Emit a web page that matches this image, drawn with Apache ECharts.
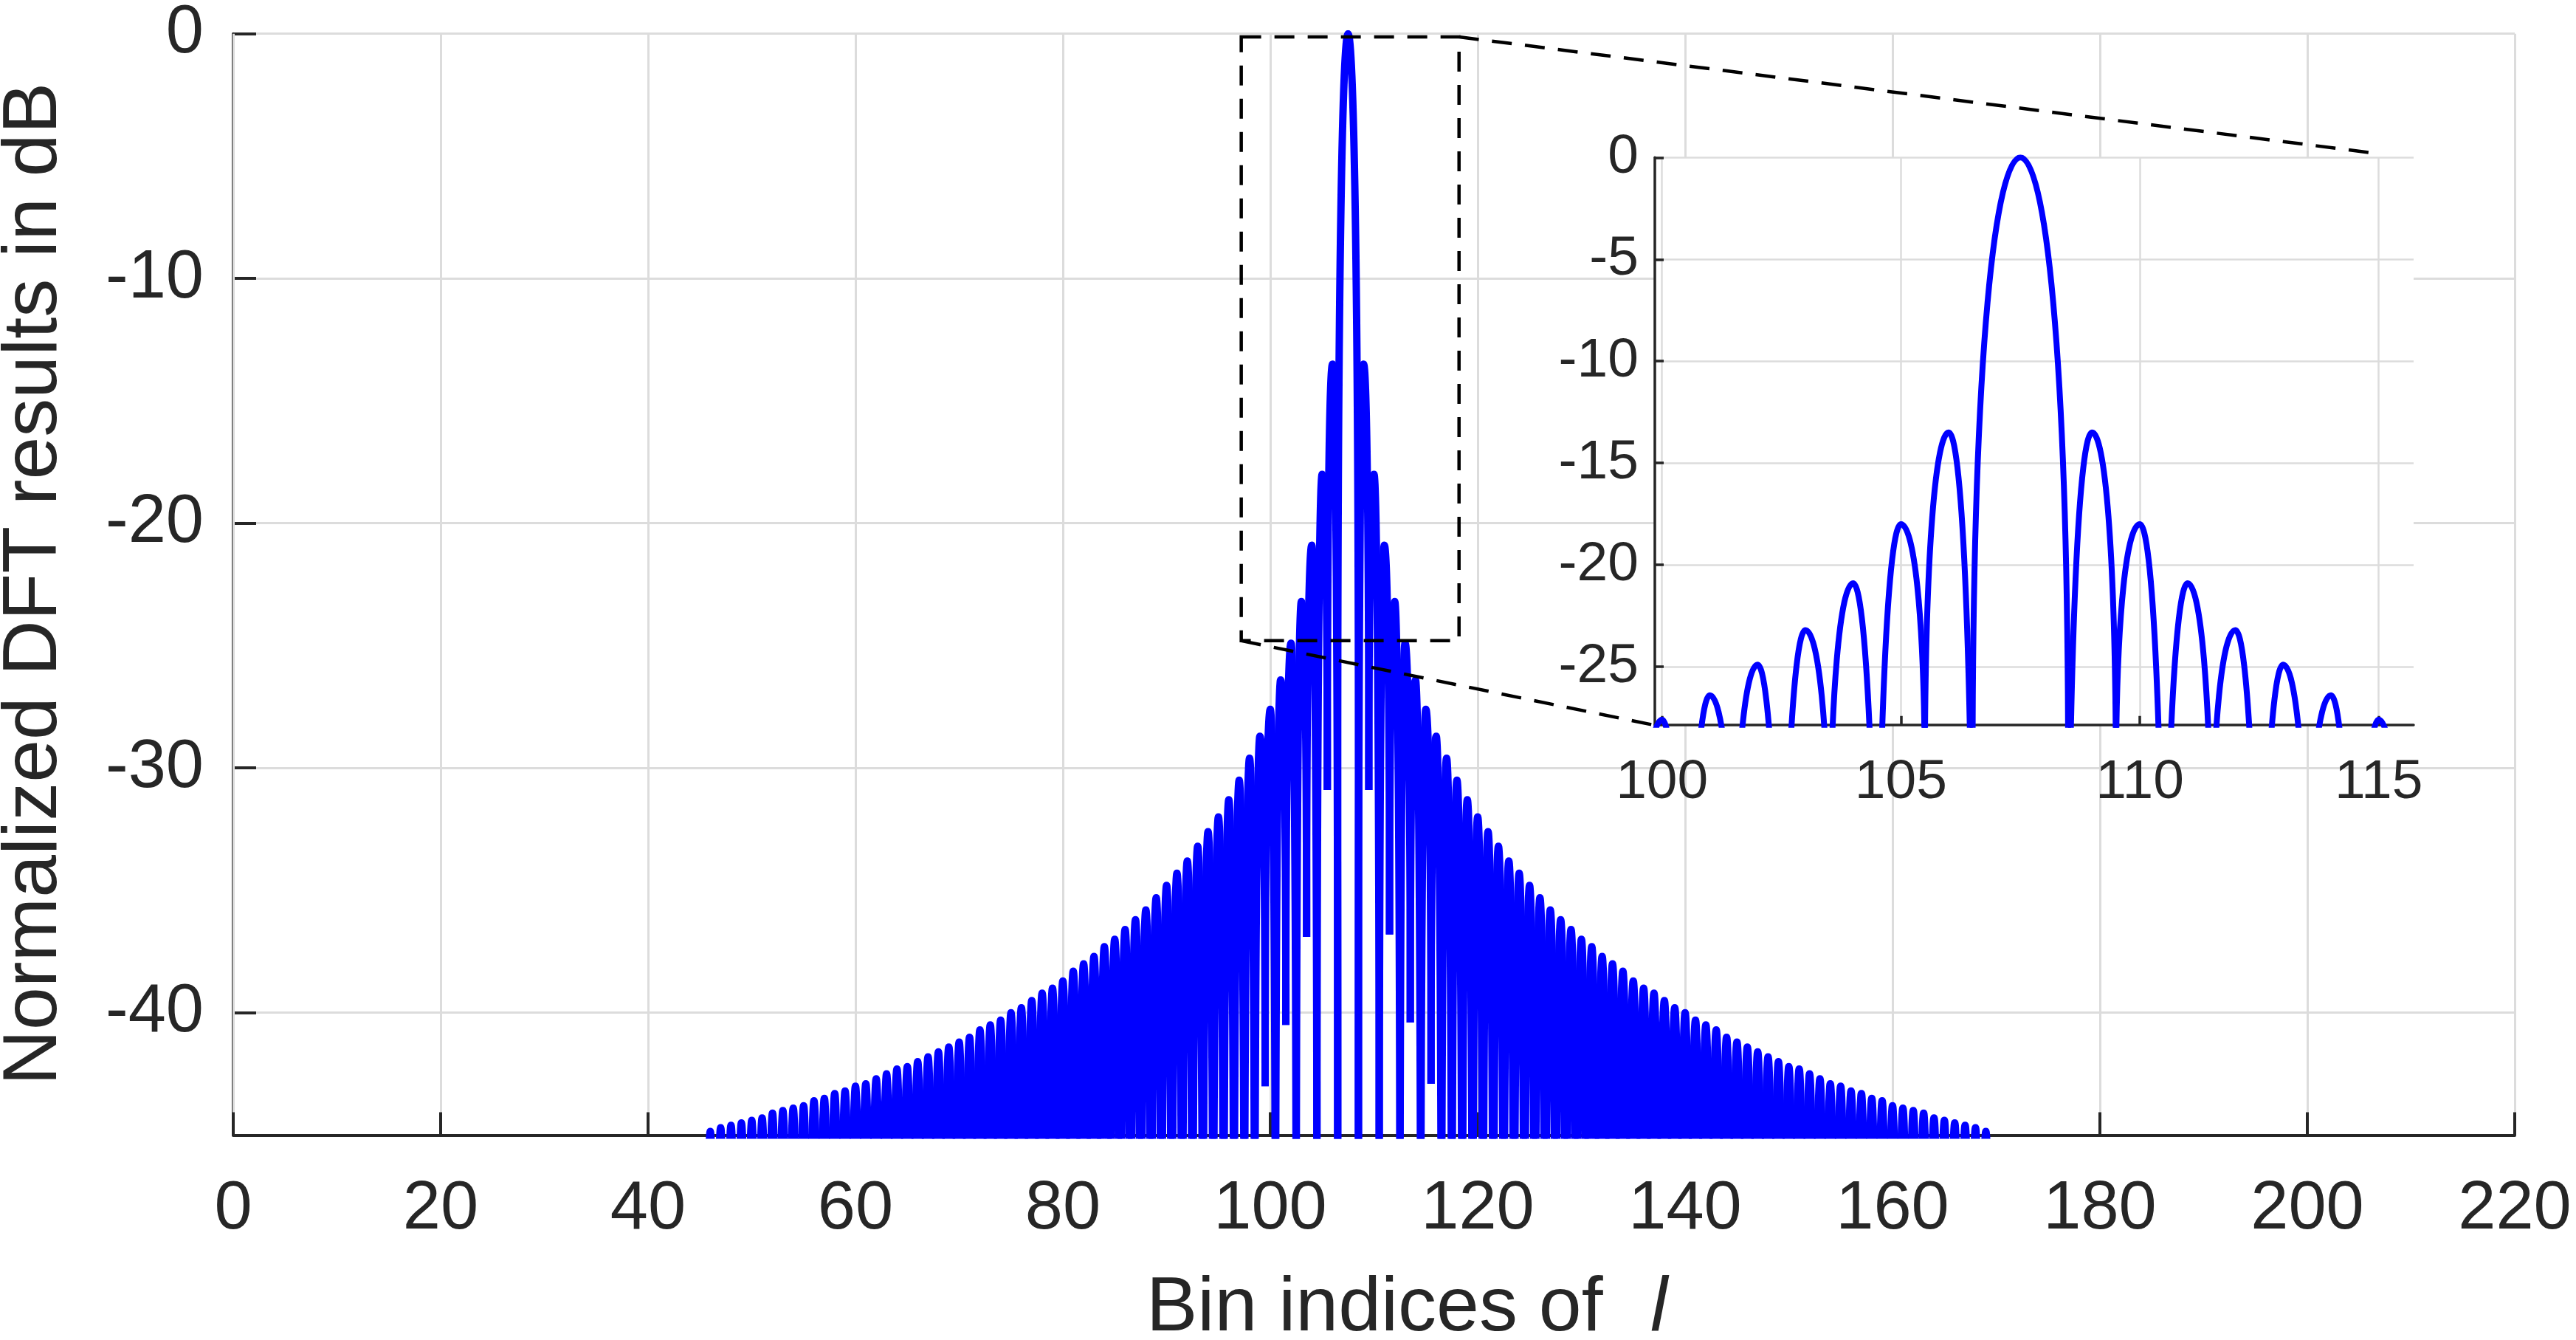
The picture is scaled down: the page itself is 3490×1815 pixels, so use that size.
<!DOCTYPE html>
<html>
<head>
<meta charset="utf-8">
<script src="https://cdn.jsdelivr.net/npm/echarts@6/dist/echarts.min.js"></script>
<style>
html,body{margin:0;padding:0;background:#ffffff;}
#chart{width:3490px;height:1815px;}
</style>
</head>
<body>
<div id="chart"></div>
<script>
// ================= DATA =================
// Null positions (bin index) that bound each lobe of the spectrum
const lobeEdges = [
  45.5,46.5,47.5,48.5,49.5,50.5,51.5,52.5,53.5,54.5,
  55.5,56.5,57.5,58.5,59.5,60.5,61.5,62.5,63.5,64.5,
  65.5,66.5,67.5,68.5,69.5,70.5,71.5,72.5,73.5,74.5,
  75.5,76.5,77.5,78.5,79.5,80.5,81.5,82.5,83.5,84.5,
  85.5,86.5,87.5,88.5,89.5,90.5,91.5,92.5,93.5,94.5,
  95.5,96.5,97.5,98.5,99.5,100.5,101.5,102.5,103.5,104.5,
  105.5,106.5,
  108.5,109.5,110.5,111.5,112.5,113.5,114.5,115.5,116.5,117.5,
  118.5,119.5,120.5,121.5,122.5,123.5,124.5,125.5,126.5,127.5,
  128.5,129.5,130.5,131.5,132.5,133.5,134.5,135.5,136.5,137.5,
  138.5,139.5,140.5,141.5,142.5,143.5,144.5,145.5,146.5,147.5,
  148.5,149.5,150.5,151.5,152.5,153.5,154.5,155.5,156.5,157.5,
  158.5,159.5,160.5,161.5,162.5,163.5,164.5,165.5,166.5,167.5,
  168.5,169.5
];
// Peak level (dB) of each lobe, left tail -> main lobe -> right tail
const leftLobePeakDb = [
  -44.85,-44.7,-44.6,-44.5,-44.4,-44.3,-44.1,-44.0,-43.9,-43.8,
  -43.6,-43.5,-43.3,-43.2,-43.0,-42.9,-42.7,-42.5,-42.3,-42.2,
  -42.0,-41.8,-41.6,-41.4,-41.2,-41.0,-40.7,-40.5,-40.3,-40.0,
  -39.8,-39.5,-39.2,-39.0,-38.7,-38.3,-38.0,-37.7,-37.3,-37.0,
  -36.6,-36.2,-35.8,-35.3,-34.8,-34.3,-33.8,-33.2,-32.6,-32.0,
  -31.3,-30.5,-29.6,-28.7,-27.6,-26.4,-24.9,-23.2,-20.9,-18.0,
  -13.5
];
const mainLobePeakDb = [0];
const rightLobePeakDb = [
  -13.5,-18.0,-20.9,-23.2,-24.9,-26.4,-27.6,-28.7,-29.6,-30.5,
  -31.3,-32.0,-32.6,-33.2,-33.8,-34.3,-34.8,-35.3,-35.8,-36.2,
  -36.6,-37.0,-37.3,-37.7,-38.0,-38.3,-38.7,-39.0,-39.2,-39.5,
  -39.8,-40.0,-40.3,-40.5,-40.7,-41.0,-41.2,-41.4,-41.6,-41.8,
  -42.0,-42.2,-42.3,-42.5,-42.7,-42.9,-43.0,-43.2,-43.3,-43.5,
  -43.6,-43.8,-43.9,-44.0,-44.1,-44.3,-44.4,-44.5,-44.6,-44.7,
  -44.85
];
// Nulls that do not reach the bottom of the main plot (their lowest level, dB)
const shallowNullBins = [99.5, 101.5, 103.5, 105.5, 109.5, 111.5, 113.5, 115.5];
const shallowNullDb   = [-43.0, -40.5, -36.9, -30.9, -30.9, -36.8, -40.4, -42.9];

// Axis ticks
const mainYTicks  = [0, -10, -20, -30, -40];
const insetXTicks = [100, 105, 110, 115];
const insetYTicks = [0, -5, -10, -15, -20, -25];

// Zoom-box annotation (main-plot data coordinates) and connector targets (inset coordinates)
const zoomBoxX = [97.2, 118.2];
const zoomBoxY = [-24.8, -0.13];
const insetUpperTarget = [115.05, 0.17];
const insetLowerTarget = [99.8, -27.85];

// Texts
const xTitle = 'Bin indices of';
const xTitleVar = 'l';
const yTitle = 'Normalized DFT results in dB';

// ================= BUILD =================
const FONT = '"Liberation Sans", Arial, Helvetica, sans-serif';
const TXT = '#262626';
const GRIDC = '#dcdcdc';
const BLUE = '#0000ff';
const LOBE_DEPTH = 30;   // shape constant of the drawn lobe arch (dB)

const lobePeakDb = leftLobePeakDb.concat(mainLobePeakDb, rightLobePeakDb);
const floorOf = {};
shallowNullBins.forEach((b, i) => { floorOf[b] = shallowNullDb[i]; });
const lobes = lobePeakDb.map((pk, i) => ({
  x0: lobeEdges[i], x1: lobeEdges[i + 1], peak: pk,
  floorL: floorOf[lobeEdges[i]], floorR: floorOf[lobeEdges[i + 1]]
}));
const insetLobes = lobes.filter(l => l.x1 > 99.85 && l.x0 < 115.73);

function f(v) { return v.toFixed(2); }

function lobeRenderer(list, width) {
  return function (params, api) {
    const it = list[params.dataIndex];
    const cs = params.coordSys;
    const below = cs.y + cs.height + width * 4;
    const xc = (it.x0 + it.x1) / 2;
    const pk = it.peak;
    const dL = it.floorL === undefined ? LOBE_DEPTH : Math.min(LOBE_DEPTH, pk - it.floorL);
    const dR = it.floorR === undefined ? LOBE_DEPTH : Math.min(LOBE_DEPTH, pk - it.floorR);
    const a  = api.coord([it.x0, pk - dL]);
    const c1 = api.coord([it.x0, pk - 0.3 * dL]);
    const c2 = api.coord([xc - 0.5 * (xc - it.x0), pk]);
    const p  = api.coord([xc, pk]);
    const c3 = api.coord([xc + 0.5 * (it.x1 - xc), pk]);
    const c4 = api.coord([it.x1, pk - 0.3 * dR]);
    const b  = api.coord([it.x1, pk - dR]);
    let d;
    if (it.floorL === undefined) {
      d = 'M' + f(a[0]) + ',' + f(below) + ' L' + f(a[0]) + ',' + f(a[1]);
    } else if (it.floorL < pk - LOBE_DEPTH) {
      const s = api.coord([it.x0, it.floorL]);
      d = 'M' + f(s[0]) + ',' + f(s[1]) + ' L' + f(a[0]) + ',' + f(a[1]);
    } else {
      d = 'M' + f(a[0]) + ',' + f(a[1]);
    }
    d += ' C' + f(c1[0]) + ',' + f(c1[1]) + ' ' + f(c2[0]) + ',' + f(c2[1]) + ' ' + f(p[0]) + ',' + f(p[1]);
    d += ' C' + f(c3[0]) + ',' + f(c3[1]) + ' ' + f(c4[0]) + ',' + f(c4[1]) + ' ' + f(b[0]) + ',' + f(b[1]);
    if (it.floorR === undefined) {
      d += ' L' + f(b[0]) + ',' + f(below);
    } else if (it.floorR < pk - LOBE_DEPTH) {
      const e = api.coord([it.x1, it.floorR]);
      d += ' L' + f(e[0]) + ',' + f(e[1]);
    }
    return {
      type: 'path',
      shape: { pathData: d },
      style: { fill: 'none', stroke: BLUE, lineWidth: width, lineJoin: 'round', lineCap: 'butt' }
    };
  };
}

const chart = echarts.init(document.getElementById('chart'), null, { renderer: 'canvas', width: 3490, height: 1815 });

function lbl(size, margin, extra) {
  return Object.assign({ fontSize: size, fontFamily: FONT, color: TXT, margin: margin }, extra || {});
}

const option = {
  animation: false,
  backgroundColor: '#ffffff',
  textStyle: { fontFamily: FONT },
  grid: [
    { left: 316, top: 45.7, width: 3091, height: 1491.8, containLabel: false, outerBoundsMode: 'none', z: 0 },
    { left: 2242, top: 213.3, width: 1028, height: 768.4, containLabel: false, outerBoundsMode: 'none',
      show: true, backgroundColor: '#ffffff', borderWidth: 0, z: 5 }
  ],
  xAxis: [
    {
      type: 'value', gridIndex: 0, min: 0, max: 220, interval: 20, z: 1,
      axisLine: { show: true, onZero: false, lineStyle: { color: TXT, width: 4 } },
      axisTick: { show: true, inside: true, length: 31, lineStyle: { color: TXT, width: 4 } },
      axisLabel: lbl(92, 55, { showMinLabel: true, showMaxLabel: true, hideOverlap: false }),
      splitLine: { show: true, lineStyle: { color: GRIDC, width: 3 } }
    },
    {
      type: 'value', gridIndex: 1, min: 99.85, max: 115.73, z: 6,
      axisLine: { show: true, onZero: false, lineStyle: { color: TXT, width: 3.5 } },
      axisTick: { show: true, inside: true, length: 12, customValues: insetXTicks, lineStyle: { color: TXT, width: 3.5 } },
      axisLabel: lbl(75, 41, { customValues: insetXTicks, hideOverlap: false,
        formatter: v => (insetXTicks.indexOf(Math.round(v * 100) / 100) >= 0 ? String(v) : '') }),
      splitLine: { show: true, lineStyle: { color: GRIDC, width: 2.5 } }
    }
  ],
  yAxis: [
    {
      type: 'value', gridIndex: 0, min: -45, max: 0, z: 0,
      axisLine: { show: true, onZero: false, lineStyle: { color: TXT, width: 4 } },
      axisTick: { show: true, inside: true, length: 31, customValues: mainYTicks, lineStyle: { color: TXT, width: 4 } },
      axisLabel: lbl(92, 40, { customValues: mainYTicks, hideOverlap: false,
        formatter: v => (mainYTicks.indexOf(v) >= 0 ? String(v) : '') }),
      splitLine: { show: true, lineStyle: { color: GRIDC, width: 3 } }
    },
    {
      type: 'value', gridIndex: 1, min: -27.85, max: 0, z: 6,
      axisLine: { show: true, onZero: false, lineStyle: { color: TXT, width: 3.5 } },
      axisTick: { show: true, inside: true, length: 12, customValues: insetYTicks, lineStyle: { color: TXT, width: 3.5 } },
      axisLabel: lbl(75, 22, { customValues: insetYTicks, hideOverlap: false,
        formatter: v => (insetYTicks.indexOf(v) >= 0 ? String(v) : '') }),
      splitLine: { show: true, lineStyle: { color: GRIDC, width: 2.5 } }
    }
  ],
  series: [
    {
      type: 'custom', name: 'DFT', xAxisIndex: 0, yAxisIndex: 0,
      clip: true, silent: true, z: 2,
      lineStyle: { width: 10 },
      encode: { x: [0, 1], y: 2 },
      data: lobes.map(l => [l.x0, l.x1, l.peak]),
      renderItem: lobeRenderer(lobes, 10)
    },
    {
      type: 'custom', name: 'DFT zoom', xAxisIndex: 1, yAxisIndex: 1,
      clip: true, silent: true, z: 7,
      lineStyle: { width: 8 },
      encode: { x: [0, 1], y: 2 },
      data: insetLobes.map(l => [l.x0, l.x1, l.peak]),
      renderItem: lobeRenderer(insetLobes, 8)
    }
  ]
};

chart.setOption(option);

// Annotation: dashed zoom box + connectors, positioned through the axes' own scales
const tl = chart.convertToPixel({ gridIndex: 0 }, [zoomBoxX[0], zoomBoxY[1]]);
const br = chart.convertToPixel({ gridIndex: 0 }, [zoomBoxX[1], zoomBoxY[0]]);
const tr = chart.convertToPixel({ gridIndex: 0 }, [zoomBoxX[1], zoomBoxY[1]]);
const bl = chart.convertToPixel({ gridIndex: 0 }, [zoomBoxX[0], zoomBoxY[0]]);
const up = chart.convertToPixel({ gridIndex: 1 }, insetUpperTarget);
const lo = chart.convertToPixel({ gridIndex: 1 }, insetLowerTarget);

const dashStyle = { stroke: '#000000', lineWidth: 4.5, lineDash: [27, 18], fill: 'none' };

chart.setOption({
  graphic: [
    { id: 'zoomBox', type: 'rect', z: 20, silent: true,
      shape: { x: tl[0], y: tl[1], width: br[0] - tl[0], height: br[1] - tl[1] },
      style: dashStyle },
    { id: 'connUp', type: 'line', z: 20, silent: true,
      shape: { x1: tr[0], y1: tr[1], x2: up[0], y2: up[1] }, style: dashStyle },
    { id: 'connLo', type: 'line', z: 20, silent: true,
      shape: { x1: bl[0], y1: bl[1], x2: lo[0], y2: lo[1] }, style: dashStyle },
    { id: 'yTitle', type: 'text', z: 20, silent: true, x: 47, y: 791, rotation: Math.PI / 2,
      style: { text: yTitle, fontSize: 104, fontFamily: FONT, fill: TXT,
               align: 'center', verticalAlign: 'middle', textAlign: 'center', textVerticalAlign: 'middle' } },
    { id: 'xTitle', type: 'text', z: 20, silent: true, x: 1553, y: 1773,
      style: { text: xTitle, fontSize: 104, fontFamily: FONT, fill: TXT,
               align: 'left', verticalAlign: 'middle', textAlign: 'left', textVerticalAlign: 'middle' } },
    { id: 'xTitleVar', type: 'text', z: 20, silent: true, x: 2236, y: 1773,
      style: { text: xTitleVar, fontSize: 104, fontFamily: FONT, fontStyle: 'italic', fill: TXT,
               align: 'left', verticalAlign: 'middle', textAlign: 'left', textVerticalAlign: 'middle' } }
  ]
});
</script>
</body>
</html>
